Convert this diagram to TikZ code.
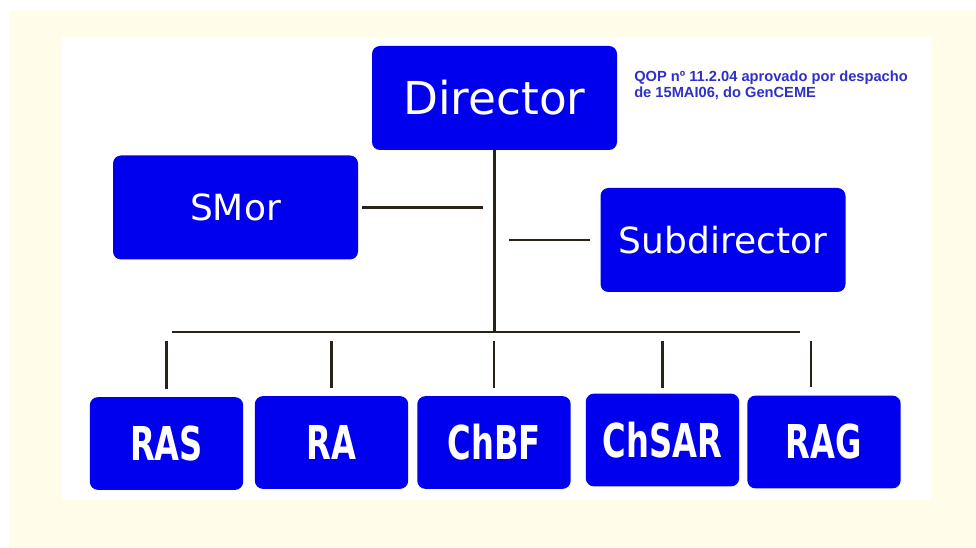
\documentclass[tikz,border=0pt]{standalone}
\usepackage{fontspec}
\usepackage{graphicx}
\setmainfont{DejaVu Sans}
\newfontfamily\notefont{Liberation Sans}
\usepackage{tikz}
\definecolor{boxblue}{RGB}{0,0,238}
\definecolor{noteblue}{RGB}{48,48,200}
\definecolor{cream}{RGB}{255,253,234}
\definecolor{linkcol}{RGB}{40,34,24}

\tikzset{
  unitbox/.style={fill=boxblue, rounded corners=6pt, text=white, inner sep=0pt},
  topbox/.style={unitbox, minimum width=183.75pt, minimum height=78pt},
  lowbox/.style={unitbox, minimum width=115pt, minimum height=69.5pt,
    font=\fontsize{35}{40}\selectfont\bfseries},
  link/.style={draw=linkcol, line width=2pt}
}
\newcommand{\narrow}[1]{\scalebox{0.69}[1]{#1}}

\begin{document}
\begin{tikzpicture}[x=0.75pt, y=-0.75pt]
    \useasboundingbox (0,0) rectangle (976,548);
    \fill[white] (0,0) rectangle (976,548);
    \fill[cream] (9,11) rectangle (976,548);
    \fill[white] (62,37) rectangle (931,500);
    \node(dir)[topbox, font=\fontsize{34}{40}\selectfont] at (494.5,98) {Director};
    \node(smor)[topbox, font=\fontsize{27}{32}\selectfont] at (235.5,207.5) {SMor};
    \node(subdir)[topbox, font=\fontsize{27}{32}\selectfont] at (723,240) {Subdirector};
    \node(note)[anchor=north west, align=left, inner sep=0pt, text=noteblue,
      font=\notefont\bfseries\fontsize{11}{11.5}\selectfont] at (634,71)
      {QOP nº 11.2.04 aprovado por despacho\\de 15MAI06, do GenCEME};
    \node(ras)[lowbox] at (166.5,443.5) {\narrow{RAS}};
    \node(ra)[lowbox] at (331.5,442.5) {\narrow{RA}};
    \node(chbf)[lowbox] at (494,442.5) {\narrow{ChBF}};
    \node(chsar)[lowbox] at (662.5,440) {\narrow{ChSAR}};
    \node(rag)[lowbox] at (824,442) {\narrow{RAG}};
    \coordinate(busL) at (172,332);
    \coordinate(busR) at (800,332);
    \draw[link] (dir.south) -- (dir.south |- busL);
    \draw[link] (busL) -- (busR);
    \draw[link, shorten <=3pt, shorten >=9pt] (smor.east) -- (smor.east -| dir.south);
    \draw[link, shorten <=7.5pt, shorten >=10.5pt] (subdir.west) -- (subdir.west -| dir.south);
    \draw[link, shorten >=6pt] (ras.north |- 0,341) -- (ras.north);
    \draw[link, shorten >=6pt] (ra.north |- 0,341) -- (ra.north);
    \draw[link, shorten >=6pt] (chbf.north |- 0,341) -- (chbf.north);
    \draw[link, shorten >=4pt] (chsar.north |- 0,341) -- (chsar.north);
    \draw[link, shorten >=6pt] ([xshift=-9.75pt]rag.north |- 0,341) -- ([xshift=-9.75pt]rag.north);
\end{tikzpicture}
\end{document}
